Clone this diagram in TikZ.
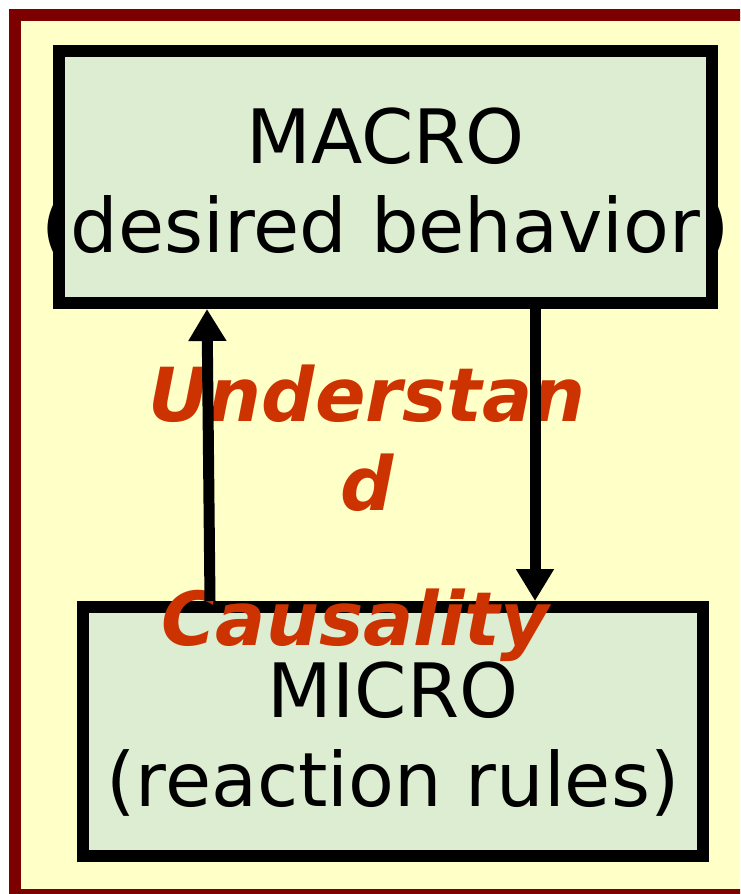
\documentclass[tikz,border=0pt]{standalone}
\usepackage{fontspec}
\setmainfont{DejaVu Sans}
\usetikzlibrary{arrows.meta}
\definecolor{panelyellow}{HTML}{FFFFC8}
\definecolor{framered}{HTML}{7D0000}
\definecolor{boxgreen}{HTML}{DCEDD2}
\definecolor{labelred}{HTML}{CC3300}
\begin{document}
\begin{tikzpicture}[x=1pt,y=-1pt,
  levelbox/.style={draw=black, line width=12pt, fill=boxgreen, inner sep=0pt},
  boxtext/.style={font=\fontsize{75}{88}\selectfont, anchor=base, inner sep=0pt},
  causal/.style={font=\fontsize{74.5}{88}\selectfont\bfseries\itshape, text=labelred, anchor=base, inner sep=0pt},
  link/.style={line width=11pt, -{Triangle[length=32pt,width=36pt]}}
]
\useasboundingbox (0,0) rectangle (740,894);
\clip (0,0) rectangle (740,894);
\fill[white] (0,0) rectangle (740,894);
% panel with its dark red frame
\filldraw[fill=panelyellow, draw=framered, line width=12pt] (15,15) rectangle (760,895);

% the two level boxes
\node[levelbox, minimum width=653pt, minimum height=252pt] (macro) at (385.5,177) {};
\node[levelbox, minimum width=620pt, minimum height=249pt] (micro) at (393,731.5) {};

% box captions
\node[boxtext] (macrotitle) at (385.5,163) {MACRO};
\node[boxtext] (macronote) at (385.5,252) {(desired behavior)};
\node[boxtext] (microtitle) at (393,717) {MICRO};
\node[boxtext] (micronote) at (393,806) {(reaction rules)};

% red caption between the levels
\node[causal] (understan) at (367,421) {Understan};
\node[causal] (understand) at (367,510) {d};
\node[causal] (causality) at (355,645) {Causality};

% links between the levels
\draw[link] ([xshift=-183pt]micro.north) -- ([xshift=-178.5pt]macro.south);
\draw[link] ([xshift=149.5pt]macro.south) -- ([xshift=142pt]micro.north);
\end{tikzpicture}
\end{document}
